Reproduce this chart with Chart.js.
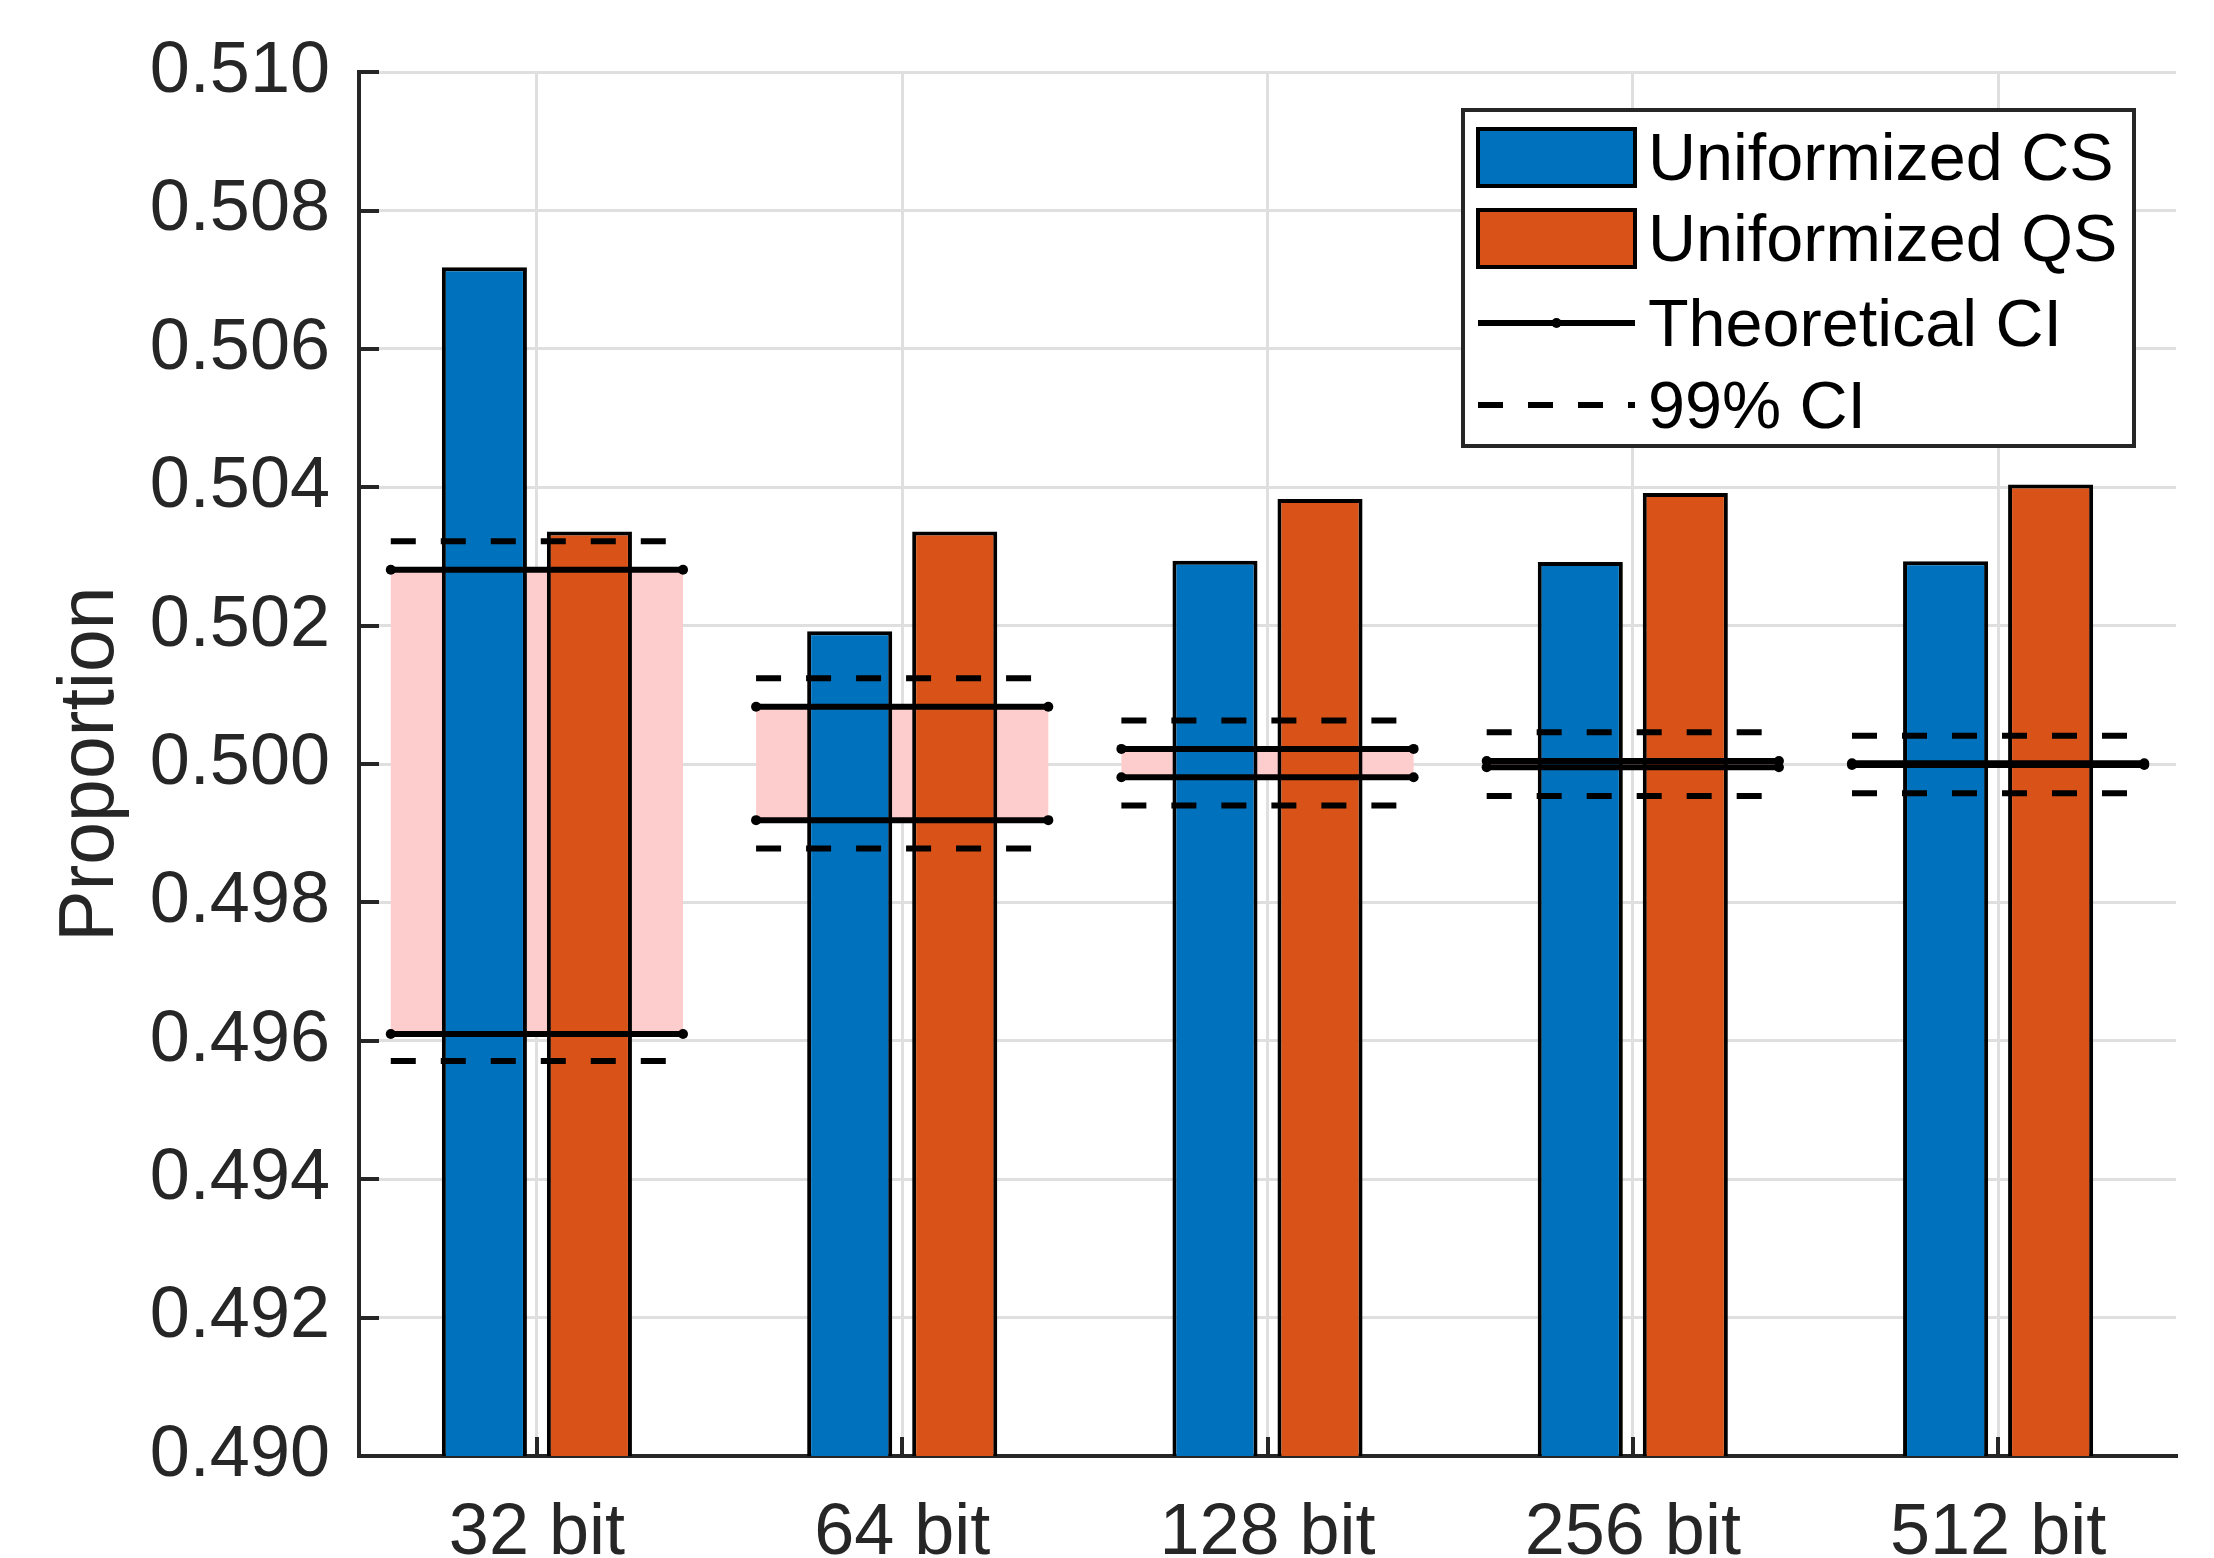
<!DOCTYPE html>
<html>
<head>
<meta charset="utf-8">
<script src="https://cdn.jsdelivr.net/npm/chart.js@4.4.1/dist/chart.umd.min.js"></script>
<style>
  html, body { margin: 0; padding: 0; background: #fff; }
</style>
</head>
<body>
<canvas id="chart" width="2214" height="1558"></canvas>
<script>
// values
const categories = ['32 bit', '64 bit', '128 bit', '256 bit', '512 bit'];
const uniformCS = [0.50718, 0.50192, 0.50294, 0.50292, 0.50293];
const uniformQS = [0.50336, 0.50336, 0.50383, 0.50392, 0.50404];
const theoUpper = [0.50281, 0.50083, 0.50022, 0.500045, 0.500012];
const theoLower = [0.49610, 0.49919, 0.49981, 0.499955, 0.499988];
const ci99Upper = [0.50322, 0.50124, 0.50063, 0.50046, 0.50041];
const ci99Lower = [0.49571, 0.49878, 0.49940, 0.49954, 0.49958];
const yMin = 0.490, yMax = 0.510, yStep = 0.002;

const BLUE = '#0072BD';
const ORANGE = '#D95319';
const PINK = '#FDCDCD';
const AXIS = '#262626';
const GRID = '#dfdfdf';
const FONT = "'Liberation Sans', Arial, sans-serif";
const CI_HALF = 0.4;    // half length of CI lines, in category units
const X_EDGE = 0.487;   // space left of first / right of last category (matlab xlim)

// one short horizontal segment per category, broken by gaps.
// category index is used directly as x (parsing off), so the
// lines can sit on the same category axis as the bars
function segments(values) {
    const pts = [];
    values.forEach((v, i) => {
        pts.push({ x: i - CI_HALF, y: v }, { x: i + CI_HALF, y: v }, { x: i + 0.5, y: NaN });
    });
    return pts;
}

function ciLine(label, values, dashed) {
    return {
        type: 'line',
        label: label,
        data: segments(values),
        parsing: false,
        borderColor: '#000',
        borderWidth: 6,
        borderDash: dashed ? [25, 25] : [],
        borderCapStyle: 'butt',
        pointRadius: dashed ? 0 : 5,
        pointBackgroundColor: '#000',
        pointBorderWidth: 0,
        order: dashed ? 1 : 0
    };
}

// inward ticks, like matlab
const innerTicks = {
    id: 'innerTicks',
    afterDraw(chart) {
        const ctx = chart.ctx, area = chart.chartArea;
        const y = chart.scales.y, x = chart.scales.x;
        ctx.save();
        ctx.strokeStyle = AXIS;
        ctx.lineWidth = 4;
        ctx.beginPath();
        y.ticks.forEach(t => {
            const py = Math.round(y.getPixelForValue(t.value));
            ctx.moveTo(area.left, py);
            ctx.lineTo(area.left + 20, py);
        });
        x.ticks.forEach((t, i) => {
            const px = Math.round(x.getPixelForTick(i));
            ctx.moveTo(px, area.bottom);
            ctx.lineTo(px, area.bottom - 19);
        });
        ctx.stroke();
        ctx.restore();
    }
};

// legend box in the upper right corner of the axes
const boxLegend = {
    id: 'boxLegend',
    afterDraw(chart) {
        const ctx = chart.ctx;
        const ds = chart.data.datasets;
        const left = 1463, top = 110, right = 2134, bottom = 446;
        const sx0 = 1478, sx1 = 1635, tx = 1648;
        const rows = [157, 238, 323, 405];
        ctx.save();
        ctx.fillStyle = '#fff';
        ctx.fillRect(left, top, right - left, bottom - top);
        ctx.strokeStyle = AXIS;
        ctx.lineWidth = 4;
        ctx.strokeRect(left, top, right - left, bottom - top);

        const items = [ds[0], ds[1], ds[3], ds[5]];
        items.forEach((d, k) => {
            const cy = rows[k];
            ctx.setLineDash([]);
            if (d.type === 'line') {
                ctx.strokeStyle = d.borderColor;
                ctx.lineWidth = d.borderWidth;
                ctx.setLineDash(d.borderDash);
                ctx.beginPath();
                ctx.moveTo(sx0, cy);
                ctx.lineTo(sx1, cy);
                ctx.stroke();
                ctx.setLineDash([]);
                if (d.pointRadius > 0) {
                    ctx.fillStyle = d.pointBackgroundColor;
                    ctx.beginPath();
                    ctx.arc((sx0 + sx1) / 2, cy, d.pointRadius, 0, Math.PI * 2);
                    ctx.fill();
                }
            } else {
                ctx.fillStyle = d.backgroundColor;
                ctx.fillRect(sx0, cy - 28, sx1 - sx0, 57);
                ctx.strokeStyle = '#000';
                ctx.lineWidth = 4;
                ctx.strokeRect(sx0, cy - 28, sx1 - sx0, 57);
            }
            ctx.fillStyle = '#000';
            ctx.font = '66.5px ' + FONT;
            ctx.textAlign = 'left';
            ctx.textBaseline = 'middle';
            ctx.fillText(d.label, tx, cy + 5);
        });
        ctx.restore();
    }
};

new Chart(document.getElementById('chart'), {
    type: 'bar',
    data: {
        labels: categories,
        datasets: [
            {
                label: 'Uniformized CS',
                data: uniformCS,
                backgroundColor: BLUE,
                borderColor: '#000',
                borderWidth: 4,
                categoryPercentage: 0.575,
                barPercentage: 0.81,
                order: 2
            },
            {
                label: 'Uniformized QS',
                data: uniformQS,
                backgroundColor: ORANGE,
                borderColor: '#000',
                borderWidth: 4,
                categoryPercentage: 0.575,
                barPercentage: 0.81,
                order: 2
            },
            {
                label: 'band',
                data: categories.map((c, i) => [theoLower[i], theoUpper[i]]),
                grouped: false,
                backgroundColor: PINK,
                borderWidth: 0,
                categoryPercentage: 2 * CI_HALF,
                barPercentage: 1,
                order: 5
            },
            ciLine('Theoretical CI', theoUpper, false),
            ciLine('Theoretical CI lower', theoLower, false),
            ciLine('99% CI', ci99Upper, true),
            ciLine('99% CI lower', ci99Lower, true)
        ]
    },
    options: {
        responsive: false,
        devicePixelRatio: 1,
        animation: false,
        layout: { padding: { top: 72, right: 38, left: 0, bottom: 0 } },
        plugins: {
            legend: { display: false },
            tooltip: { enabled: false }
        },
        scales: {
            x: {
                offset: true,
                grid: { offset: false, color: GRID, lineWidth: 3, drawTicks: false },
                border: { color: AXIS, width: 4 },
                ticks: { color: AXIS, padding: 35, font: { family: FONT, size: 72 } },
                afterFit: s => { s.height = 102; },
                // a bit less room at the ends than a full half category
                afterBuildTicks: s => {
                    s._startValue = -X_EDGE;
                    s._valueRange = categories.length - 1 + 2 * X_EDGE;
                }
            },
            y: {
                min: yMin,
                max: yMax,
                stacked: false,
                grid: { color: GRID, lineWidth: 3, drawTicks: false },
                border: { color: AXIS, width: 4 },
                ticks: {
                    stepSize: yStep,
                    color: AXIS,
                    padding: 29,
                    font: { family: FONT, size: 72 },
                    callback: v => v.toFixed(3)
                },
                title: {
                    display: true,
                    text: 'Proportion',
                    color: AXIS,
                    font: { family: FONT, size: 77 },
                    padding: { top: 46, bottom: 0 }
                },
                afterFit: s => { s.width = 359; }
            }
        }
    },
    plugins: [innerTicks, boxLegend]
});
</script>
</body>
</html>
